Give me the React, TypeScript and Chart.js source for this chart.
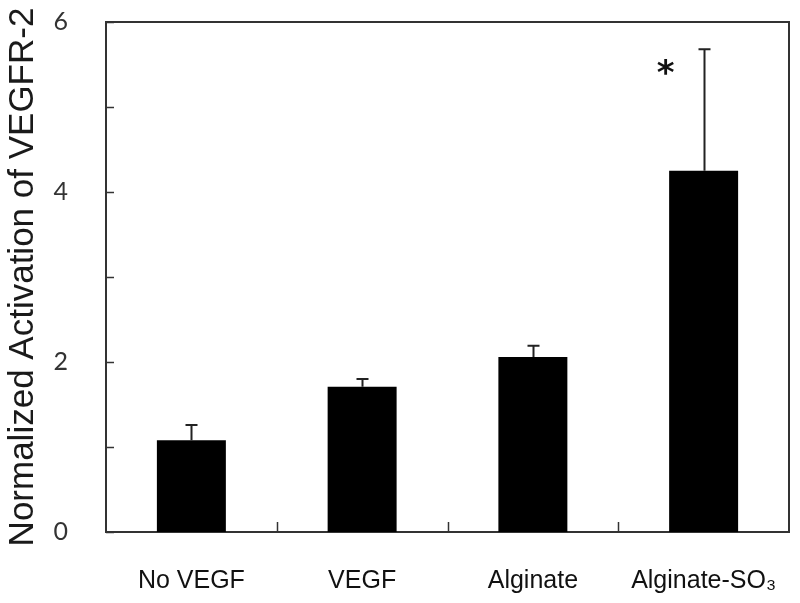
import React, { useEffect, useRef } from "react";
import { Chart, registerables } from "chart.js";

Chart.register(...registerables);

const categories = ["No VEGF", "VEGF", "Alginate", "Alginate-SO\u2083"];
const means = [1.08, 1.71, 2.06, 4.25];
const errorsUp = [0.18, 0.09, 0.13, 1.43];
const significant = [false, false, false, true];
const yTickValues = [0, 1, 2, 3, 4, 5, 6];
const yLabelled = [0, 2, 4, 6];
const yTitle = "Normalized Activation of VEGFR-2";

const AXIS = "#333333";

const framePlugin = {
  id: "frameAndTicks",
  afterDraw(chart: any) {
    const { ctx, chartArea } = chart;
    const y = chart.scales.y;
    const x = chart.scales.x;
    ctx.save();
    ctx.strokeStyle = AXIS;
    ctx.lineWidth = 2;
    ctx.beginPath();
    ctx.moveTo(chartArea.left, chartArea.top);
    ctx.lineTo(chartArea.right, chartArea.top);
    ctx.lineTo(chartArea.right, chartArea.bottom);
    ctx.stroke();
    ctx.lineWidth = 1.5;
    yTickValues.forEach((v) => {
      const py = Math.round(y.getPixelForValue(v)) + 0.5;
      ctx.beginPath();
      ctx.moveTo(chartArea.left, py);
      ctx.lineTo(chartArea.left + 8, py);
      ctx.stroke();
    });
    for (let i = 1; i < categories.length; i++) {
      const px = Math.round((x.getPixelForValue(i - 1) + x.getPixelForValue(i)) / 2) + 0.5;
      ctx.beginPath();
      ctx.moveTo(px, chartArea.bottom);
      ctx.lineTo(px, chartArea.bottom - 10);
      ctx.stroke();
    }
    ctx.restore();
  },
};

const errorBarPlugin = {
  id: "errorBars",
  afterDatasetsDraw(chart: any) {
    const { ctx } = chart;
    const y = chart.scales.y;
    const meta = chart.getDatasetMeta(0);
    ctx.save();
    ctx.strokeStyle = "#222222";
    ctx.lineWidth = 2;
    meta.data.forEach((el: any, i: number) => {
      const top = y.getPixelForValue(means[i] + errorsUp[i]);
      const bx = Math.round(el.x) + 0.5;
      ctx.beginPath();
      ctx.moveTo(bx, el.y);
      ctx.lineTo(bx, top);
      ctx.moveTo(bx - 6, top);
      ctx.lineTo(bx + 6, top);
      ctx.stroke();
      if (significant[i]) {
        ctx.fillStyle = "#111111";
        ctx.font = "bold 34px 'DejaVu Sans'";
        ctx.textAlign = "center";
        ctx.textBaseline = "middle";
        ctx.fillText("*", el.x - 38, top + 26);
      }
    });
    ctx.restore();
  },
};

export default function App() {
  const ref = useRef<HTMLCanvasElement | null>(null);
  useEffect(() => {
    if (!ref.current) return;
    const chart = new Chart(ref.current, {
      type: "bar",
      data: {
        labels: categories,
        datasets: [
          {
            data: means,
            backgroundColor: "#000000",
            borderWidth: 0,
            barPercentage: 0.404,
            categoryPercentage: 1,
          },
        ],
      },
      options: {
        responsive: false,
        animation: false,
        layout: { padding: { top: 22, right: 11, left: 0, bottom: 0 } },
        plugins: { legend: { display: false }, tooltip: { enabled: false } },
        scales: {
          x: {
            grid: { display: false },
            border: { display: true, color: AXIS, width: 2 },
            ticks: {
              color: "#111111",
              font: { family: "'Liberation Sans', Arial, sans-serif", size: 25 },
              padding: 26,
              maxRotation: 0,
              autoSkip: false,
            },
            afterFit: (s: any) => {
              s.height = 71;
              s.paddingLeft = 0;
              s.paddingRight = 0;
            },
          },
          y: {
            min: 0,
            max: 6,
            grid: { display: false },
            border: { display: true, color: AXIS, width: 2 },
            ticks: {
              stepSize: 1,
              color: "#333333",
              padding: 30,
              font: { family: "Lato, 'Open Sans', sans-serif", size: 25 },
              callback: (v: any) => (yLabelled.includes(Number(v)) ? String(v) : ""),
            },
            title: {
              display: true,
              text: yTitle,
              color: "#1a1a1a",
              font: { family: "'Liberation Sans', Arial, sans-serif", size: 35 },
              padding: { top: 2, bottom: 0 },
            },
            afterFit: (s: any) => {
              s.width = 106;
              s.paddingTop = 0;
              s.paddingBottom = 0;
            },
          },
        },
      },
      plugins: [framePlugin, errorBarPlugin],
    });
    return () => chart.destroy();
  }, []);
  return (
    <div style={{ position: "fixed", left: 0, top: 0, width: 800, height: 603, background: "#fff" }}>
      <canvas ref={ref} width={800} height={603} />
    </div>
  );
}
